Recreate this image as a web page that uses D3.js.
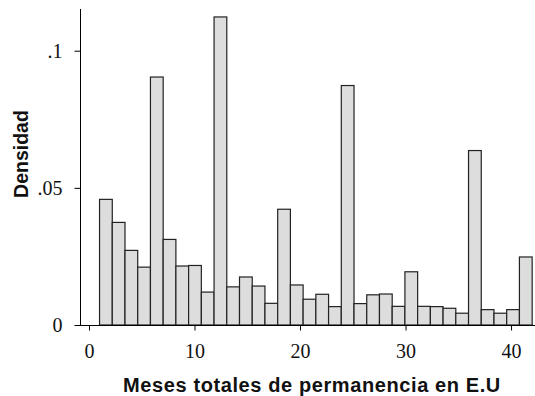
<!DOCTYPE html>
<html>
<head>
<meta charset="utf-8">
<script src="https://cdn.jsdelivr.net/npm/d3@7"></script>
<style>
  html, body { margin: 0; padding: 0; background: #ffffff; }
  svg { display: block; }
</style>
</head>
<body>
<svg id="chart" width="535" height="396"></svg>
<script>
// Histogram: density of total months spent in the U.S. (34 bins from 1 to 42)
const binRange = [1, 42];
const densities = [
  0.0458, 0.0374, 0.0272, 0.0211, 0.0904, 0.0312, 0.0215, 0.0217, 0.0120, 0.1123,
  0.0139, 0.0175, 0.0142, 0.0079, 0.0422, 0.0146, 0.0094, 0.0112, 0.0067, 0.0873,
  0.0078, 0.0110, 0.0113, 0.0068, 0.0194, 0.0068, 0.0067, 0.0061, 0.0043, 0.0636,
  0.0056, 0.0043, 0.0056, 0.0248
];
const xTicks = [0, 10, 20, 30, 40];
const yTicks = [0, 0.05, 0.1];
const yTickLabels = ["0", ".05", ".1"];
const xTitle = "Meses totales de permanencia en E.U";
const yTitle = "Densidad";

const svg = d3.select("#chart");
const x = d3.scaleLinear().domain([-0.853, 42.27]).range([80, 535]);
const y = d3.scaleLinear().domain([0, 0.1152]).range([325, 9]);

const nb = densities.length;
const bw = (binRange[1] - binRange[0]) / nb;
const bins = densities.map((d, i) => ({ x0: binRange[0] + i * bw, x1: binRange[0] + (i + 1) * bw, d }));

svg.append("g").selectAll("rect").data(bins).join("rect")
  .attr("x", b => x(b.x0))
  .attr("y", b => y(b.d))
  .attr("width", b => x(b.x1) - x(b.x0))
  .attr("height", b => y(0) - y(b.d))
  .attr("fill", "#dddddd")
  .attr("stroke", "#222")
  .attr("stroke-width", 1.2);

// Y axis
const yAxis = svg.append("g").attr("transform", "translate(80.5,0)")
  .call(d3.axisLeft(y).tickValues(yTicks).tickSize(6).tickPadding(12)
    .tickFormat((d, i) => yTickLabels[i]));
yAxis.select(".domain").attr("d", `M0,${y.range()[1]}V${y(0)}`).attr("stroke", "#000");
yAxis.selectAll(".tick line").attr("stroke", "#000");
yAxis.selectAll("text").attr("font-family", "'Liberation Serif', 'Times New Roman', serif")
  .attr("font-size", 20).attr("fill", "#111");

// X axis
const xAxis = svg.append("g").attr("transform", "translate(0,325.5)")
  .call(d3.axisBottom(x).tickValues(xTicks).tickSize(5).tickPadding(13));
xAxis.select(".domain").attr("d", `M${x.range()[0]},0H${x.range()[1]}`).attr("stroke", "#000");
xAxis.selectAll(".tick line").attr("stroke", "#000");
xAxis.selectAll("text").attr("font-family", "'Liberation Serif', 'Times New Roman', serif")
  .attr("font-size", 20).attr("fill", "#111");

// Titles
svg.append("text")
  .attr("x", 312).attr("y", 392)
  .attr("text-anchor", "middle")
  .attr("font-family", "'Liberation Sans', Arial, sans-serif")
  .attr("font-weight", "bold").attr("font-size", 20).attr("letter-spacing", 0.6).attr("fill", "#111")
  .text(xTitle);

svg.append("text")
  .attr("transform", "translate(28,154) rotate(-90)")
  .attr("text-anchor", "middle")
  .attr("font-family", "'Liberation Sans', Arial, sans-serif")
  .attr("font-weight", "bold").attr("font-size", 19.5).attr("fill", "#111")
  .text(yTitle);
</script>
</body>
</html>
